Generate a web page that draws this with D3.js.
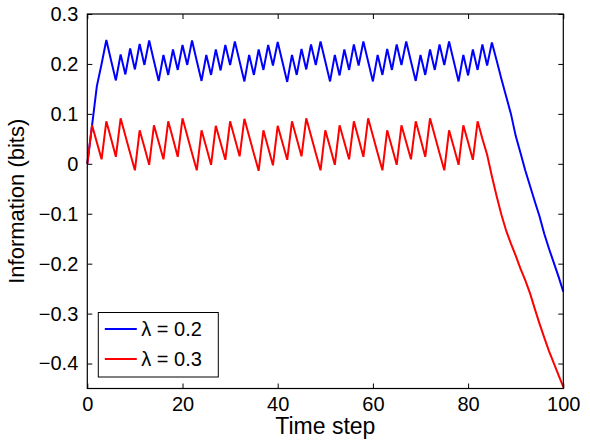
<!DOCTYPE html>
<html>
<head>
<meta charset="utf-8">
<script src="https://cdn.jsdelivr.net/npm/d3@7"></script>
<style>
  body { margin: 0; background: #fff; }
  svg { display: block; font-family: "Liberation Sans", Arial, sans-serif; }
</style>
</head>
<body>
<svg width="590" height="441"></svg>
<script>
// time steps 0..100
const steps = d3.range(0, 101);

// lambda = 0.2 (blue)
const blueValues = [
  0.000, 0.077, 0.155, 0.200, 0.248, 0.207, 0.167, 0.219, 0.179, 0.231,
  0.189, 0.240, 0.198, 0.247, 0.206, 0.166, 0.218, 0.178, 0.229, 0.188,
  0.238, 0.198, 0.247, 0.206, 0.166, 0.218, 0.178, 0.229, 0.187, 0.238,
  0.198, 0.245, 0.205, 0.165, 0.218, 0.178, 0.229, 0.188, 0.238, 0.197,
  0.244, 0.204, 0.164, 0.218, 0.178, 0.230, 0.189, 0.239, 0.198, 0.245,
  0.205, 0.165, 0.218, 0.177, 0.229, 0.188, 0.239, 0.197, 0.245, 0.205,
  0.165, 0.218, 0.178, 0.230, 0.188, 0.239, 0.198, 0.245, 0.205, 0.166,
  0.218, 0.178, 0.229, 0.188, 0.239, 0.198, 0.245, 0.205, 0.165, 0.218,
  0.177, 0.229, 0.188, 0.239, 0.197, 0.243, 0.207, 0.170, 0.135, 0.100,
  0.056, 0.022, -0.013, -0.044, -0.075, -0.105, -0.140, -0.170, -0.198, -0.226,
  -0.256
];

// lambda = 0.3 (red)
const redValues = [
  0.000, 0.077, 0.043, 0.009, 0.085, 0.050, 0.014, 0.091, 0.056, 0.021,
  -0.013, 0.067, 0.033, -0.002, 0.077, 0.043, 0.009, 0.085, 0.050, 0.014,
  0.091, 0.056, 0.021, -0.013, 0.067, 0.033, -0.002, 0.076, 0.042, 0.008,
  0.085, 0.050, 0.015, 0.090, 0.055, 0.020, -0.014, 0.067, 0.032, -0.003,
  0.076, 0.042, 0.008, 0.085, 0.050, 0.015, 0.091, 0.056, 0.021, -0.013,
  0.067, 0.033, -0.002, 0.077, 0.043, 0.009, 0.085, 0.050, 0.014, 0.091,
  0.056, 0.021, -0.013, 0.067, 0.033, -0.002, 0.077, 0.043, 0.009, 0.085,
  0.050, 0.014, 0.091, 0.056, 0.021, -0.013, 0.067, 0.033, -0.002, 0.077,
  0.043, 0.008, 0.085, 0.050, 0.018, -0.025, -0.065, -0.102, -0.134, -0.160,
  -0.184, -0.210, -0.233, -0.259, -0.290, -0.320, -0.348, -0.375, -0.399, -0.423,
  -0.447
];

const seriesNames = ["λ = 0.2", "λ = 0.3"];
const seriesColors = ["#0000ff", "#ff0000"];

const xTicks = [0, 20, 40, 60, 80, 100];
const yTicks = [-0.4, -0.3, -0.2, -0.1, 0, 0.1, 0.2, 0.3];

const margin = {top: 14, right: 26.7, bottom: 52.5, left: 87.3};
const width = 590 - margin.left - margin.right;
const height = 441 - margin.top - margin.bottom;

let svg = d3.select("svg");
let g = svg.append("g").attr("transform", "translate(" + margin.left + "," + margin.top + ")");

let x = d3.scaleLinear().domain([0, 100]).range([0, width]);
let y = d3.scaleLinear().domain([-0.45, 0.3]).range([height, 0]);

const fmtY = d => d === 0 ? "0" : (d < 0 ? "\u2212" : "") + Math.abs(d).toFixed(1);

// axes with inward ticks on all four sides
g.append("g").attr("transform", "translate(0," + height + ")")
  .call(d3.axisBottom(x).tickValues(xTicks).tickSize(-5).tickPadding(8));
g.append("g")
  .call(d3.axisLeft(y).tickValues(yTicks).tickSize(-5).tickPadding(9).tickFormat(fmtY));
g.append("g")
  .call(d3.axisTop(x).tickValues(xTicks).tickSize(-5).tickFormat(""));
g.append("g").attr("transform", "translate(" + width + ",0)")
  .call(d3.axisRight(y).tickValues(yTicks).tickSize(-5).tickFormat(""));

g.selectAll(".domain").remove();
g.selectAll(".tick line").attr("stroke", "#000").attr("stroke-width", 1);
g.selectAll(".tick text")
  .attr("fill", "#000")
  .style("font-size", "20px")
  .style("font-family", "'Liberation Sans', Arial, sans-serif");

// lines
let line = d3.line().x((d, i) => x(steps[i])).y(d => y(d));
[blueValues, redValues].forEach((vals, i) => {
  g.append("path")
    .datum(vals)
    .attr("fill", "none")
    .attr("stroke", seriesColors[i])
    .attr("stroke-width", 2)
    .attr("d", line);
});

// box
g.append("rect")
  .attr("width", width).attr("height", height)
  .attr("fill", "none").attr("stroke", "#000").attr("stroke-width", 1.2);

// axis labels
g.append("text")
  .attr("x", width / 2).attr("y", height + 45)
  .attr("text-anchor", "middle")
  .style("font-size", "23px")
  .text("Time step");

g.append("text")
  .attr("transform", "translate(" + (-63) + "," + (height / 2) + ") rotate(-90)")
  .attr("text-anchor", "middle")
  .style("font-size", "22px")
  .text("Information (bits)");

// legend
let legend = g.append("g").attr("transform", "translate(11," + (height - 76) + ")");
legend.append("rect")
  .attr("width", 120).attr("height", 64.5)
  .attr("fill", "#fff").attr("stroke", "#000").attr("stroke-width", 1);
seriesNames.forEach((name, i) => {
  let row = legend.append("g").attr("transform", "translate(0," + (16.5 + i * 30) + ")");
  row.append("line")
    .attr("x1", 6.5).attr("x2", 38.5)
    .attr("stroke", seriesColors[i]).attr("stroke-width", 2);
  row.append("text")
    .attr("x", 43).attr("dy", "0.35em")
    .style("font-size", "20px")
    .text(name);
});
</script>
</body>
</html>
